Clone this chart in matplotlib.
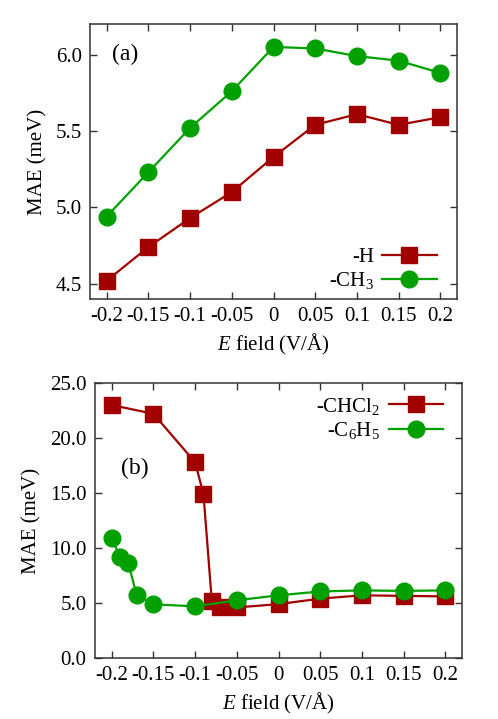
import numpy as np
import matplotlib
matplotlib.use("Agg")
import matplotlib.pyplot as plt
from matplotlib.ticker import FormatStrFormatter

plt.rcParams["font.family"] = ["Liberation Serif", "DejaVu Serif"]
plt.rcParams["mathtext.fontset"] = "custom"
plt.rcParams["mathtext.rm"] = "Liberation Serif"
plt.rcParams["mathtext.it"] = "Liberation Serif:italic"

# panel (a)
field_a = [-0.2, -0.15, -0.1, -0.05, 0.0, 0.05, 0.1, 0.15, 0.2]
mae_h = [4.52, 4.74, 4.93, 5.10, 5.33, 5.54, 5.61, 5.54, 5.59]
mae_ch3 = [4.94, 5.23, 5.52, 5.76, 6.05, 6.04, 5.99, 5.96, 5.88]

# panel (b)
field_chcl2 = [-0.2, -0.15, -0.1, -0.09, -0.08, -0.07, -0.05, 0.0, 0.05, 0.1, 0.15, 0.2]
mae_chcl2 = [23.0, 22.2, 17.8, 14.9, 5.2, 4.6, 4.6, 4.9, 5.4, 5.7, 5.65, 5.6]
field_c6h5 = [-0.2, -0.19, -0.18, -0.17, -0.15, -0.1, -0.05, 0.0, 0.05, 0.1, 0.15, 0.2]
mae_c6h5 = [10.9, 9.2, 8.6, 5.7, 4.88, 4.7, 5.25, 5.7, 6.05, 6.15, 6.1, 6.15]

xticks = [-0.2, -0.15, -0.1, -0.05, 0, 0.05, 0.1, 0.15, 0.2]
xticklabels = ["-0.2", "-0.15", "-0.1", "-0.05", "0", "0.05", "0.1", "0.15", "0.2"]

red = "#a00000"
green = "#00a000"
fs = 15

fig = plt.figure(figsize=(4.98, 7.19), dpi=100)
ax1 = fig.add_axes([0.1807, 0.5841, 0.737, 0.3825])
ax2 = fig.add_axes([0.1908, 0.0848, 0.737, 0.3825])


def style(ax):
    ax.set_xlim(-0.22, 0.22)
    ax.set_xticks(xticks)
    ax.set_xticklabels(xticklabels)
    ax.yaxis.set_major_formatter(FormatStrFormatter("%.1f"))
    ax.tick_params(direction="in", length=5, width=1, top=True, right=True,
                   labelsize=fs, pad=6, color="#333333")
    for s in ax.spines.values():
        s.set_linewidth(1.1)
        s.set_color("#333333")
    ax.set_xlabel(r"$E$ field (V/Å)", fontsize=fs, labelpad=4)
    ax.set_ylabel("MAE (meV)", fontsize=fs, labelpad=6)


ax1.plot(field_a, mae_h, color=red, marker="s", markersize=11.5, lw=1.6, label="-H")
ax1.plot(field_a, mae_ch3, color=green, marker="o", markersize=12, lw=1.6, label="-CH$_3$")
ax1.set_ylim(4.4, 6.2)
ax1.set_yticks([4.5, 5.0, 5.5, 6.0])
style(ax1)
ax1.text(0.06, 0.89, "(a)", transform=ax1.transAxes, fontsize=17, va="center")
ax1.legend(loc="lower right", markerfirst=False, frameon=False, fontsize=fs,
           handlelength=2.6, handletextpad=0.4, labelspacing=0.15,
           borderaxespad=0.3, bbox_to_anchor=(0.984, -0.025))

ax2.plot(field_chcl2, mae_chcl2, color=red, marker="s", markersize=11.5, lw=1.6, label="-CHCl$_2$")
ax2.plot(field_c6h5, mae_c6h5, color=green, marker="o", markersize=12, lw=1.6, label="-C$_6$H$_5$")
ax2.set_ylim(0, 25)
ax2.set_yticks([0, 5, 10, 15, 20, 25])
style(ax2)
ax2.text(0.07, 0.69, "(b)", transform=ax2.transAxes, fontsize=17, va="center")
ax2.legend(loc="upper right", markerfirst=False, frameon=False, fontsize=fs,
           handlelength=2.6, handletextpad=0.4, labelspacing=0.15,
           borderaxespad=0.3, bbox_to_anchor=(0.987, 1.007))

fig.savefig("out.png", dpi=100)
